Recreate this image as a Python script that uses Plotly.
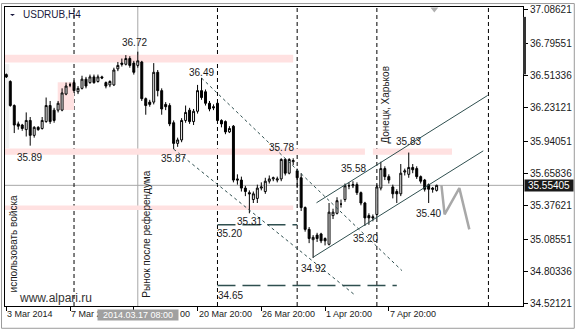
import plotly.graph_objects as go

# ---------------- data ----------------
bars = list(range(109))
opens = [36.52, 36.46, 36.25, 36.09, 36.08, 36.04, 36.12, 35.99, 36.06, 36.05,
         36.11, 36.25, 36.21, 36.21, 36.21, 36.35, 36.43, 36.45, 36.37, 36.40,
         36.48, 36.45, 36.50, 36.46, 36.50, 36.45, 36.43, 36.43, 36.57, 36.62,
         36.61, 36.66, 36.62, 36.60, 36.63, 36.31, 36.28, 36.28, 36.54, 36.38,
         36.26, 36.25, 36.10, 35.92, 35.95, 36.12, 36.21, 36.11, 36.20, 36.38,
         36.37, 36.27, 36.24, 36.27, 36.12, 36.11, 36.02, 36.07, 35.61, 35.60,
         35.53, 35.49, 35.43, 35.44, 35.53, 35.50, 35.59, 35.61, 35.60, 35.61,
         35.78, 35.66, 35.76, 35.68, 35.62, 35.36, 35.17, 35.08, 35.12, 35.13,
         35.09, 35.04, 35.29, 35.31, 35.39, 35.43, 35.55, 35.55, 35.56, 35.49,
         35.40, 35.29, 35.28, 35.30, 35.53, 35.70, 35.63, 35.54, 35.50, 35.48,
         35.67, 35.65, 35.71, 35.70, 35.63, 35.60, 35.56, 35.53, 35.51]
highs = [36.53, 36.47, 36.26, 36.11, 36.09, 36.19, 36.15, 36.07, 36.07, 36.15,
         36.32, 36.29, 36.23, 36.29, 36.40, 36.45, 36.45, 36.47, 36.42, 36.51,
         36.50, 36.52, 36.52, 36.52, 36.51, 36.46, 36.47, 36.58, 36.63, 36.66,
         36.69, 36.68, 36.64, 36.72, 36.64, 36.32, 36.30, 36.62, 36.56, 36.40,
         36.28, 36.27, 36.12, 35.97, 36.14, 36.25, 36.23, 36.22, 36.43, 36.49,
         36.39, 36.29, 36.26, 36.28, 36.13, 36.12, 36.07, 36.08, 35.65, 35.63,
         35.55, 35.51, 35.50, 35.56, 35.58, 35.62, 35.64, 35.63, 35.63, 35.79,
         35.79, 35.79, 35.79, 35.70, 35.66, 35.37, 35.19, 35.12, 35.14, 35.14,
         35.10, 35.40, 35.35, 35.45, 35.43, 35.57, 35.58, 35.59, 35.58, 35.50,
         35.41, 35.31, 35.30, 35.56, 35.76, 35.72, 35.65, 35.56, 35.52, 35.74,
         35.70, 35.84, 35.74, 35.72, 35.64, 35.61, 35.57, 35.54, 35.56]
lows = [36.49, 36.24, 36.01, 36.04, 36.03, 35.98, 35.90, 35.97, 36.03, 36.04,
        36.10, 36.09, 36.10, 36.19, 36.20, 36.34, 36.41, 36.36, 36.35, 36.39,
        36.40, 36.44, 36.44, 36.45, 36.48, 36.40, 36.41, 36.42, 36.55, 36.59,
        36.60, 36.58, 36.52, 36.58, 36.29, 36.17, 36.24, 36.26, 36.33, 36.17,
        36.21, 36.07, 35.87, 35.89, 35.93, 36.10, 36.09, 36.08, 36.18, 36.30,
        36.25, 36.20, 36.21, 36.11, 36.06, 36.00, 36.01, 35.58, 35.56, 35.50,
        35.46, 35.31, 35.40, 35.40, 35.51, 35.48, 35.57, 35.59, 35.58, 35.59,
        35.64, 35.65, 35.73, 35.53, 35.33, 35.15, 35.05, 34.92, 35.06, 35.05,
        35.03, 35.03, 35.26, 35.30, 35.36, 35.41, 35.52, 35.53, 35.47, 35.38,
        35.20, 35.21, 35.24, 35.27, 35.51, 35.60, 35.57, 35.44, 35.40, 35.46,
        35.64, 35.62, 35.66, 35.61, 35.57, 35.50, 35.40, 35.49, 35.50]
closes = [36.50, 36.25, 36.08, 36.07, 36.05, 36.12, 35.99, 36.06, 36.04, 36.12,
          36.25, 36.11, 36.12, 36.27, 36.36, 36.42, 36.43, 36.38, 36.40, 36.48,
          36.42, 36.50, 36.45, 36.50, 36.49, 36.42, 36.46, 36.56, 36.60, 36.61,
          36.66, 36.60, 36.54, 36.64, 36.31, 36.25, 36.26, 36.54, 36.38, 36.22,
          36.24, 36.09, 35.92, 35.95, 36.12, 36.19, 36.11, 36.20, 36.38, 36.32,
          36.27, 36.22, 36.23, 36.12, 36.09, 36.02, 36.05, 35.60, 35.60, 35.53,
          35.50, 35.48, 35.48, 35.53, 35.54, 35.59, 35.61, 35.62, 35.61, 35.78,
          35.66, 35.78, 35.77, 35.62, 35.36, 35.17, 35.09, 35.10, 35.09, 35.07,
          35.07, 35.32, 35.32, 35.42, 35.39, 35.55, 35.55, 35.56, 35.49, 35.40,
          35.27, 35.27, 35.27, 35.54, 35.70, 35.63, 35.60, 35.48, 35.48, 35.66,
          35.68, 35.71, 35.69, 35.63, 35.59, 35.52, 35.52, 35.52, 35.554]

y_ticks = [37.08621, 36.79551, 36.51336, 36.23121, 35.94051, 35.65836,
           35.37621, 35.08551, 34.80336, 34.52121]
bid_price = 35.55405

# date ticks; the labels at bars 16 and 32 are partly hidden by the crosshair box
date_ticks = [0, 16, 32, 48, 64, 80, 96]
date_labels = ["3 Mar 2014", "7 Mar 2", "", "20 Mar 20:00",
               "26 Mar 20:00", "1 Apr 20:00", "7 Apr 20:00"]
hidden_tail_bar = 43.05
hidden_tail_text = "00"
crosshair_bar = 33
crosshair_label = "2014.03.17 08:00"
event_bars = [17, 53, 73, 93, 121]

forecast_x = [109.2, 110, 113.7, 116.2]
forecast_y = [35.555, 35.30, 35.53, 35.17]

trend_lines = [
    ([49, 99.3], [36.49, 34.81]),
    ([42, 87.4], [35.87, 34.60]),
]
channel_lines = [
    ([77.85, 120.8], [35.402, 36.338]),
    ([77.0, 119.7], [34.927, 35.855]),
]
level_lines = [(53, 73, 35.21), (53, 98, 34.68)]

zones = [  # x0, x1, y0, y1
    (-0.4, 72, 36.626, 36.692),
    (-0.4, 90, 35.820, 35.875),
    (92, 111.85, 35.820, 35.875),
    (-0.4, 72, 35.339, 35.378),
    (12.9, 17, 36.211, 36.453),
]

price_labels = [  # x, y, text
    (32.2, 36.799, "36.72"), (48.9, 36.539, "36.49"), (5.9, 35.793, "35.89"),
    (42.05, 35.784, "35.87"), (69.05, 35.883, "35.78"), (61.05, 35.236, "35.31"),
    (55.9, 35.136, "35.20"), (77.05, 34.830, "34.92"), (87.05, 35.698, "35.58"),
    (90.05, 35.093, "35.20"), (101.05, 35.935, "35.83"), (106.05, 35.305, "35.40"),
    (56.2, 34.597, "34.65"),
]
vertical_notes = [
    (1.9, 35.046, "использовать войска"),
    (35.2, 35.128, "Рынок после референдума"),
    (95.2, 36.255, "Донецк, Харьков"),
]

# ---------------- figure ----------------
XR = [-0.325, 129.675]
YR = [34.5016, 37.1095]
FONT = "Liberation Sans, Arial, sans-serif"
TXT = "#1a1a1a"
LINE = "#2f4f4f"

fig = go.Figure()

fig.add_trace(go.Candlestick(
    x=bars, open=opens, high=highs, low=lows, close=closes,
    increasing=dict(line=dict(color="black", width=1), fillcolor="white"),
    decreasing=dict(line=dict(color="black", width=1), fillcolor="black"),
    whiskerwidth=0, hoverinfo="skip", showlegend=False,
))

for xs, ys in trend_lines:
    fig.add_trace(go.Scatter(x=xs, y=ys, mode="lines", showlegend=False, hoverinfo="skip",
                             line=dict(color=LINE, width=1, dash="3px,3px")))
for xs, ys in channel_lines:
    fig.add_trace(go.Scatter(x=xs, y=ys, mode="lines", showlegend=False, hoverinfo="skip",
                             line=dict(color=LINE, width=1)))
for x0, x1, lv in level_lines:
    fig.add_trace(go.Scatter(x=[x0, x1], y=[lv, lv], mode="lines", showlegend=False,
                             hoverinfo="skip",
                             line=dict(color=LINE, width=1.5, dash="18px,7px")))
fig.add_trace(go.Scatter(x=forecast_x, y=forecast_y, mode="lines", showlegend=False,
                         hoverinfo="skip", line=dict(color="#a8a8a8", width=2.5)))

shapes = []
shapes.append(dict(type="rect", xref="x", yref="y", x0=-0.4, x1=0.75, y0=35.877, y1=36.611,
                   fillcolor="#f1f1f1", line=dict(width=0), layer="below"))
for x0, x1, y0, y1 in zones:
    shapes.append(dict(type="rect", xref="x", yref="y", x0=x0, x1=x1, y0=y0, y1=y1,
                       fillcolor="#ffe1e1", line=dict(width=0), layer="below"))
shapes.append(dict(type="line", xref="paper", yref="y", x0=0, x1=1, y0=bid_price, y1=bid_price,
                   line=dict(color="#a8a8a8", width=1), layer="below"))
shapes.append(dict(type="line", xref="x", yref="paper", x0=crosshair_bar, x1=crosshair_bar,
                   y0=0, y1=1, line=dict(color="#a8a8a8", width=1), layer="below"))
for b in event_bars:
    shapes.append(dict(type="line", xref="x", yref="paper", x0=b, x1=b, y0=0, y1=1,
                       line=dict(color="black", width=1, dash="4px,3px"), layer="below"))
shapes.append(dict(type="rect", xref="paper", yref="paper", x0=-0.0067, x1=1.099,
                   y0=-0.0745, y1=1.0116, line=dict(color="#9a9a9a", width=1)))
shapes.append(dict(type="rect", xref="paper", yref="paper", x0=1.0, x1=1.0058,
                   y0=0.7748, y1=0.9669, fillcolor="#333333", line=dict(width=0)))
shapes.append(dict(type="path", xref="paper", yref="paper",
                   path="M 0.8212 0.9983 L 0.8365 0.9983 L 0.8288 0.9818 Z",
                   fillcolor="#b0b0b0", line=dict(width=0)))
shapes.append(dict(type="path", xref="paper", yref="paper",
                   path="M 0.0096 0.9768 L 0.0192 0.9768 L 0.0144 0.9702 Z",
                   fillcolor="#1a1a40", line=dict(width=0)))

annotations = []
annotations.append(dict(xref="paper", yref="paper", x=0.0308, y=0.9735, xanchor="left",
                        yanchor="middle", text="USDRUB,H4", showarrow=False,
                        font=dict(family=FONT, size=10, color="#1a1a40")))
for x, y, t in price_labels:
    annotations.append(dict(xref="x", yref="y", x=x, y=y, text=t, showarrow=False,
                            xanchor="center", yanchor="middle",
                            font=dict(family=FONT, size=10, color=TXT)))
for x, y, t in vertical_notes:
    annotations.append(dict(xref="x", yref="y", x=x, y=y, text=t, showarrow=False,
                            textangle=-90, xanchor="center", yanchor="middle",
                            font=dict(family=FONT, size=10, color=TXT)))
annotations.append(dict(xref="x", yref="y", x=12.4, y=34.571, text="www.alpari.ru",
                        showarrow=False, font=dict(family=FONT, size=12, color="#333333")))
for b, t in zip(date_ticks, date_labels):
    if not t:
        continue
    annotations.append(dict(xref="x", yref="paper", x=b, y=-0.028, text=t, showarrow=False,
                            xanchor="left", yanchor="middle", xshift=-1,
                            font=dict(family=FONT, size=9, color=TXT)))
annotations.append(dict(xref="x", yref="paper", x=hidden_tail_bar, y=-0.028,
                        text=hidden_tail_text, showarrow=False, xanchor="left",
                        yanchor="middle", font=dict(family=FONT, size=9, color=TXT)))
annotations.append(dict(xref="x", yref="paper", x=crosshair_bar, y=-0.0298,
                        text=crosshair_label, showarrow=False, xanchor="center",
                        yanchor="middle", width=80, height=10, bgcolor="#a0a0a0",
                        borderpad=0, font=dict(family=FONT, size=9, color="white")))
annotations.append(dict(xref="paper", yref="y", x=1.002, y=bid_price,
                        text=f"{bid_price:.5f}", showarrow=False, xanchor="left",
                        yanchor="middle", width=48, height=11, bgcolor="#1a1a1a",
                        borderpad=0, font=dict(family=FONT, size=10, color="white")))

fig.update_layout(
    width=576, height=329,
    margin=dict(l=4, r=52, t=4, b=23),
    paper_bgcolor="white", plot_bgcolor="white",
    showlegend=False, shapes=shapes, annotations=annotations,
    xaxis=dict(range=XR, rangeslider=dict(visible=False), showgrid=False, zeroline=False,
               showline=True, mirror=True, linecolor="black", linewidth=1,
               tickmode="array", tickvals=date_ticks, showticklabels=False,
               ticks="outside", ticklen=4, tickcolor="black"),
    yaxis=dict(range=YR, side="right", showgrid=False, zeroline=False,
               showline=True, mirror=True, linecolor="black", linewidth=1,
               tickmode="array", tickvals=y_ticks, ticktext=[f"{v:.5f}" for v in y_ticks],
               ticks="outside", ticklen=4, tickcolor="black",
               tickfont=dict(family=FONT, size=10, color=TXT)),
)

fig.write_html("out.html")
